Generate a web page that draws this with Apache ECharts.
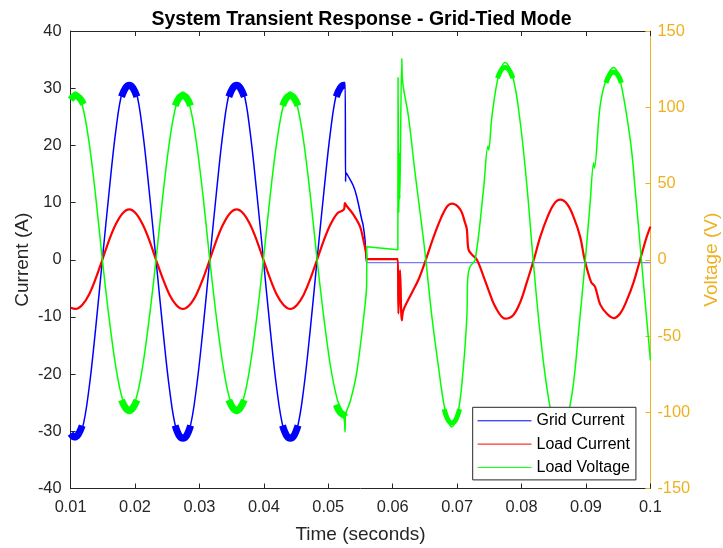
<!DOCTYPE html>
<html>
<head>
<meta charset="utf-8">
<script src="https://cdn.jsdelivr.net/npm/echarts@6/dist/echarts.min.js"></script>
<style>html,body{margin:0;padding:0;background:#fff}#chart{width:723px;height:548px}</style>
</head>
<body>
<div id="chart"></div>
<script>
// ---- tick labels ----
const timeTicks = [0.01, 0.02, 0.03, 0.04, 0.05, 0.06, 0.07, 0.08, 0.09, 0.1];
const currentTicks = [-40, -30, -20, -10, 0, 10, 20, 30, 40];
const voltageTicks = [-150, -100, -50, 0, 50, 100, 150];

// ---- grid-tied period (shared time base, seconds) ----
const preTime = [0.01, 0.01076, 0.0118, 0.01285, 0.01389, 0.01493, 0.01597, 0.01701, 0.01806, 0.0191,
  0.02014, 0.02118, 0.02222, 0.02326, 0.02431, 0.02535, 0.02639, 0.02743, 0.02847, 0.02951,
  0.03056, 0.0316, 0.03264, 0.03368, 0.03472, 0.03576, 0.03681, 0.03785, 0.03889, 0.03993,
  0.04097, 0.04201, 0.04306, 0.0441, 0.04514, 0.04618, 0.04722, 0.04826, 0.04931, 0.05035,
  0.05139, 0.05243];
const gridPre = [-30.5, -31.3, -29.6, -22.6, -12.0, 0, 11.8, 22.5, 29.5, 30.8,
  29.5, 22.5, 11.8, 0, -12.0, -22.6, -29.6, -31.3, -29.6, -22.6,
  -12.0, 0, 11.8, 22.5, 29.5, 30.8, 29.5, 22.5, 11.8, 0,
  -12.0, -22.6, -29.6, -31.3, -29.6, -22.6, -12.0, 0, 11.8, 22.5,
  29.5, 30.8];
const loadIPre = [-8.4, -8.6, -7.9, -6.1, -3.3, 0, 3.4, 6.2, 8.1, 8.8,
  8.1, 6.2, 3.4, 0, -3.3, -6.1, -7.9, -8.6, -7.9, -6.1,
  -3.3, 0, 3.4, 6.2, 8.1, 8.8, 8.1, 6.2, 3.4, 0,
  -3.3, -6.1, -7.9, -8.6, -7.9, -6.1, -3.3, 0, 3.4, 6.2,
  8.1, 8.8];
const loadVPre = [107, 110, 101.5, 77.5, 41.7, 0, -38, -70, -91.5, -99,
  -91.5, -70, -38, 0, 41.7, 77.5, 101.5, 110, 101.5, 77.5,
  41.7, 0, -38, -70, -91.5, -99, -91.5, -70, -38, 0,
  41.7, 77.5, 101.5, 110, 101.5, 77.5, 41.7, 0, -38, -70,
  -91.5, -104];

// ---- transient + islanded period ----
const gridPostTime = [0.05262, 0.05268, 0.05275, 0.0531, 0.0539, 0.0544, 0.0552, 0.0554, 0.0557, 0.0559, 0.05597];
const gridPost = [30.8, 13.7, 15.2, 14.6, 12.9, 11.1, 7.0, 6.1, 3.5, 0, -0.5];
const gridIslandTime = [0.05597, 0.1];
const gridIsland = [-0.5, -0.5];

const loadIPostTime = [0.05259, 0.05286, 0.05389, 0.05493, 0.05544, 0.05586, 0.05597, 0.0608, 0.06088, 0.06114,
  0.06141, 0.06166, 0.06296, 0.06399, 0.06514, 0.06658, 0.06814, 0.06918, 0.07047, 0.07125,
  0.07151, 0.07176, 0.07229, 0.07307, 0.07409, 0.07487, 0.07591, 0.07746, 0.0787, 0.0798,
  0.0808, 0.0819, 0.0829, 0.084, 0.085, 0.086, 0.0871, 0.0881, 0.0891, 0.0898,
  0.0908, 0.0914, 0.0922, 0.0933, 0.0943, 0.0953, 0.0963, 0.0974, 0.0984, 0.0994, 0.1];
const loadIPost = [9.9, 9.4, 7.9, 5.8, 3.5, 1.2, 0.1, 0.1, -9.4, -1.8,
  -10.6, -8.8, -5.8, -3.5, 0, 4.7, 8.8, 9.8, 8.8, 6.4,
  5.3, 1.8, 0.9, 0, -2.9, -5.3, -8.2, -10.3, -9.7, -7.4,
  -4.0, 0, 4.0, 7.4, 9.7, 10.5, 9.7, 7.4, 4.0, 0,
  -3.9, -4.7, -7.8, -9.5, -10.2, -9.4, -7.2, -3.9, 0, 3.9, 5.8];

const loadVPostTime = [0.0526, 0.05265, 0.05347, 0.05441, 0.0557, 0.05596, 0.05597, 0.0608, 0.06083, 0.06095,
  0.06104, 0.0611, 0.06141, 0.06156, 0.06243, 0.06347, 0.06452, 0.06514, 0.06607, 0.0671,
  0.06814, 0.06918, 0.0702, 0.07098, 0.07151, 0.07167, 0.07202, 0.0728, 0.07409, 0.07478,
  0.0749, 0.0754, 0.07642, 0.07746, 0.0787, 0.0798, 0.0808, 0.0818, 0.0828, 0.0839,
  0.0849, 0.086, 0.087, 0.088, 0.0889, 0.0899, 0.0906, 0.0912, 0.0913, 0.0922,
  0.0932, 0.0943, 0.0953, 0.0969, 0.0976, 0.0986, 0.1];
const loadVPost = [-113, -103, -92, -74, -30, -15, 8.5, 6.6, 119.5, 31,
  70, 40, 132, 116, 94.3, 57, 22, 0, -37, -70,
  -98.7, -109.6, -98.7, -70, -37, -11, -4.4, 0, 46, 74.5,
  72, 94, 120.6, 129.4, 119, 90, 50, 0, -45, -83,
  -105, -113, -105, -83, -45, 0, 35, 63.6, 60, 101,
  119, 126, 118, 78, 48, 0, -66];

// ---- switching-ripple bands around the crests (band centre; null separates crests) ----
const gridBandTime = [0.01, 0.0106, 0.0112, 0.0118, 0.0119,
  0.0179, 0.0185, 0.0191, 0.0197, 0.0203, 0.0204,
  0.02623, 0.02683, 0.02743, 0.02803, 0.02863, 0.0287,
  0.03456, 0.03516, 0.03576, 0.03636, 0.03696, 0.037,
  0.0429, 0.0435, 0.0441, 0.0447, 0.0453, 0.0454,
  0.05123, 0.05183, 0.05243, 0.05262];
const gridBand = [-30.4, -31.0, -30.5, -29.0, null,
  28.5, 30.0, 30.5, 30.0, 28.5, null,
  -29.0, -30.7, -31.2, -30.7, -29.0, null,
  28.5, 30.0, 30.5, 30.0, 28.5, null,
  -29.0, -30.7, -31.2, -30.7, -29.0, null,
  28.5, 30.0, 30.5, 30.5];
const loadVBandPreTime = [0.01, 0.01076, 0.0114, 0.012, 0.0121,
  0.0179, 0.0185, 0.0191, 0.0197, 0.0203, 0.0204,
  0.02623, 0.02683, 0.02743, 0.02803, 0.02863, 0.0287,
  0.03456, 0.03516, 0.03576, 0.03636, 0.03696, 0.037,
  0.0429, 0.0435, 0.0441, 0.0447, 0.0453, 0.0454,
  0.05123, 0.05183, 0.05243, 0.0526];
const loadVBandPre = [105, 107.5, 106, 102, null,
  -92, -97, -99, -97, -92, null,
  101, 106, 107.5, 106, 101, null,
  -92, -97, -99, -97, -92, null,
  101, 106, 107.5, 106, 101, null,
  -95, -100, -102, -103];
const loadVBandPostTime = [0.06798, 0.06858, 0.06918, 0.06978, 0.07038, 0.0704,
  0.07626, 0.07686, 0.07746, 0.07806, 0.07866, 0.0787,
  0.0931, 0.0937, 0.0943, 0.0949, 0.0955];
const loadVBandPost = [-98, -105, -107, -105, -98, null,
  119, 124.5, 126, 124.5, 119, null,
  116, 121.5, 123, 121.5, 116];

const FONT = 'Liberation Sans, Arial, Helvetica, sans-serif';
const AX = '#262626';
const GOLD = '#EDB120';

function zip(t, v) { return t.map((x, i) => [x, v[i]]); }

const chart = echarts.init(document.getElementById('chart'), null, { renderer: 'canvas' });

function lineSeries(name, data, color, width, yIdx, smooth) {
  return {
    name, type: 'line', xAxisIndex: 0, yAxisIndex: yIdx, data,
    symbol: 'none', showSymbol: false, smooth: smooth, connectNulls: false,
    lineStyle: { color, width }, itemStyle: { color },
    emphasis: { disabled: true }, animation: false, silent: true
  };
}

chart.setOption({
  animation: false,
  backgroundColor: '#fff',
  textStyle: { fontFamily: FONT },
  title: {
    text: 'System Transient Response - Grid-Tied Mode',
    left: 'center', top: 5,
    textStyle: { fontSize: 19.5, fontWeight: 'bold', color: '#000', fontFamily: FONT }
  },
  grid: { left: 70.6, right: 72.6, top: 31, bottom: 59.5, containLabel: false, outerBoundsMode: 'none' },
  legend: {
    orient: 'vertical', left: 472.7, top: 407.3,
    itemWidth: 54, itemHeight: 14, itemGap: 7.3,
    padding: [5.5, 6, 4.5, 4.3],
    borderColor: AX, borderWidth: 1, backgroundColor: '#fff',
    textStyle: { fontSize: 16, color: '#000', fontFamily: FONT },
    itemStyle: { opacity: 0 },
    lineStyle: { width: 1 },
    data: ['Grid Current', 'Load Current', 'Load Voltage']
  },
  xAxis: [{
    type: 'value', position: 'bottom',
    min: timeTicks[0], max: timeTicks[timeTicks.length - 1], interval: 0.01,
    axisLine: { show: true, onZero: false, lineStyle: { color: AX, width: 1 } },
    axisTick: { show: true, inside: true, length: 5, lineStyle: { color: AX } },
    axisLabel: { margin: 11, color: AX, fontSize: 16.4, fontFamily: FONT,
      formatter: v => String(+v.toFixed(2)) },
    splitLine: { show: false },
    name: 'Time (seconds)', nameLocation: 'middle', nameGap: 37, nameMoveOverlap: false,
    nameTextStyle: { fontSize: 19, color: AX, fontFamily: FONT }
  }, {
    type: 'value', position: 'top',
    min: timeTicks[0], max: timeTicks[timeTicks.length - 1], interval: 0.01,
    axisLine: { show: true, onZero: false, lineStyle: { color: AX, width: 1 } },
    axisTick: { show: true, inside: true, length: 5, lineStyle: { color: AX } },
    axisLabel: { show: false }, splitLine: { show: false }
  }],
  yAxis: [{
    type: 'value', position: 'left',
    min: currentTicks[0], max: currentTicks[currentTicks.length - 1], interval: 10,
    axisLine: { show: true, onZero: false, lineStyle: { color: AX, width: 1 } },
    axisTick: { show: true, inside: true, length: 5, lineStyle: { color: AX } },
    axisLabel: { margin: 9, color: AX, fontSize: 16.4, fontFamily: FONT },
    splitLine: { show: false },
    name: 'Current (A)', nameLocation: 'middle', nameGap: 38, nameRotate: 90, nameMoveOverlap: false,
    nameTextStyle: { fontSize: 19, color: AX, fontFamily: FONT }
  }, {
    type: 'value', position: 'right',
    min: voltageTicks[0], max: voltageTicks[voltageTicks.length - 1], interval: 50,
    axisLine: { show: true, onZero: false, lineStyle: { color: GOLD, width: 1 } },
    axisTick: { show: true, inside: true, length: 5, lineStyle: { color: GOLD } },
    axisLabel: { margin: 7, color: GOLD, fontSize: 16.4, fontFamily: FONT },
    splitLine: { show: false },
    name: 'Voltage (V)', nameLocation: 'middle', nameGap: 52, nameRotate: 90, nameMoveOverlap: false,
    nameTextStyle: { fontSize: 19, color: GOLD, fontFamily: FONT }
  }],
  series: [
    lineSeries('Grid Current', zip(preTime.concat(gridPostTime), gridPre.concat(gridPost)), '#0000ff', 1.5, 0, 0.35),
    lineSeries('Grid Current', zip(gridIslandTime, gridIsland), '#7a7aff', 1.3, 0, false),
    lineSeries('Grid Current', zip(gridBandTime, gridBand), '#0000ff', 7, 0, 0.35),
    lineSeries('Load Current', zip(preTime.concat(loadIPostTime), loadIPre.concat(loadIPost)), '#ff0000', 2.2, 0, 0.35),
    lineSeries('Load Voltage', zip(preTime.concat(loadVPostTime), loadVPre.concat(loadVPost)), '#00ff00', 1.5, 1, 0.35),
    lineSeries('Load Voltage', zip(loadVBandPreTime, loadVBandPre), '#00ff00', 7, 1, 0.35),
    lineSeries('Load Voltage', zip(loadVBandPostTime, loadVBandPost), '#00ff00', 5, 1, 0.35)
  ]
});
</script>
</body>
</html>
